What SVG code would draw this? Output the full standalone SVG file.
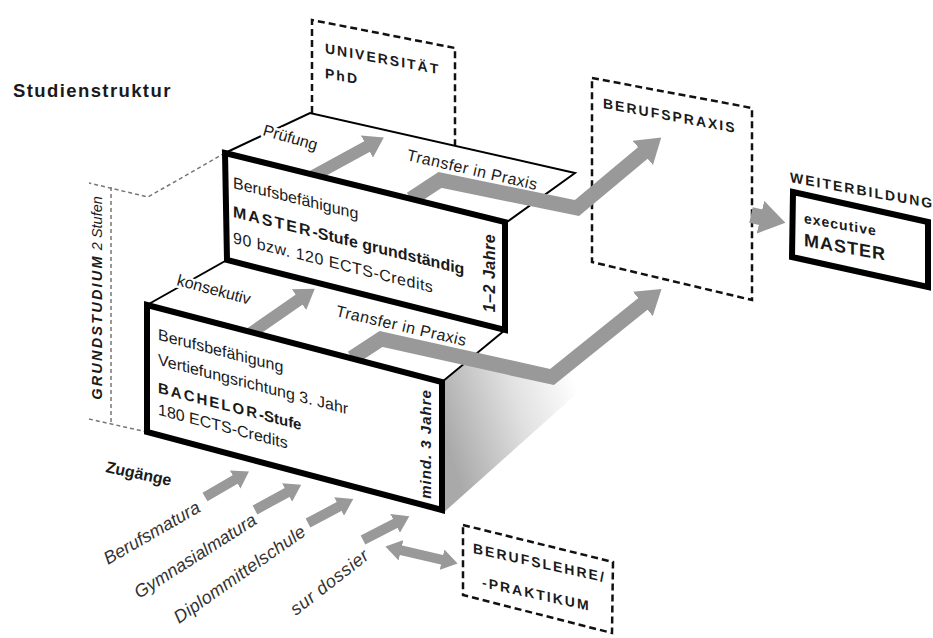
<svg xmlns="http://www.w3.org/2000/svg" width="933" height="638" viewBox="0 0 933 638">
<defs>
<style>
text { font-family: "Liberation Sans", Arial, Helvetica, sans-serif; fill: #1a1a1a; }
.dash { fill: none; stroke: #111; stroke-width: 2.5; stroke-dasharray: 7 4; }
.ghost { fill: none; stroke: #777; stroke-width: 1.5; stroke-dasharray: 4 3; }
.front { fill: #fff; stroke: #000; stroke-width: 6; stroke-linejoin: miter; }
.top { fill: #fff; stroke: #000; stroke-width: 2; stroke-linejoin: miter; }
.arr { fill: none; stroke: #999; stroke-linejoin: miter; marker-end: url(#ah); }
.lab { font-size: 16px; }
.caps { font-weight: bold; font-size: 14px; letter-spacing: 2px; }
.zu { font-size: 18px; font-style: italic; fill: #333; }
.halo { paint-order: stroke; stroke: #fff; stroke-width: 5px; stroke-linejoin: round; }
.vert { font-weight: bold; font-style: italic; }
</style>
<marker id="ah" viewBox="0 0 16 21" markerWidth="1.6" markerHeight="2.1" refX="1" refY="10.5" orient="auto-start-reverse" markerUnits="strokeWidth">
<path d="M0,0 L16,10.5 L0,21 z" fill="#999"/>
</marker>
<linearGradient id="shade" gradientUnits="userSpaceOnUse" x1="445" y1="440" x2="580" y2="395">
<stop offset="0" stop-color="#a9a9a9"/>
<stop offset="0.55" stop-color="#e0e0e0"/>
<stop offset="1" stop-color="#ffffff"/>
</linearGradient>
</defs>
<rect width="933" height="638" fill="#fff"/>

<g id="title">
<text x="13" y="97" font-size="18.5" font-weight="bold" letter-spacing="1.4">Studienstruktur</text>
</g>

<g id="grundstudium">
<path class="ghost" d="M225,153 L148,197 L89,183"/>
<path class="ghost" d="M89,419 L147,432"/>
<path class="ghost" d="M111,187 L111,423"/>
<text class="vert" transform="translate(102,298) rotate(-90)" text-anchor="middle" font-size="14.5"><tspan letter-spacing="2.2">GRUNDSTUDIUM</tspan><tspan font-weight="normal"> 2 Stufen</tspan></text>
</g>

<g id="universitaet">
<path class="dash" d="M312,113 L312,20 L455,48 L455,146"/>
<g transform="translate(325,53) skewY(10.5)">
<text class="caps" x="0" y="0">UNIVERSITÄT</text>
<text class="caps" x="0" y="25">PhD</text>
</g>
</g>

<g id="berufspraxis">
<path class="dash" d="M592,78 L752,108 L752,300 L592,262 Z"/>
<text class="caps" transform="translate(603,108) skewY(10.6)">BERUFSPRAXIS</text>
</g>

<g id="weiterbildung">
<text class="caps" transform="translate(790,182) skewY(10.5)" letter-spacing="1.5">WEITERBILDUNG</text>
<path d="M793,192 L928,222 L928,287 L792,257 Z" fill="#fff" stroke="#000" stroke-width="6"/>
<g transform="translate(804,223) skewY(10)">
<text x="0" y="0" font-size="14" font-weight="bold" letter-spacing="1">executive</text>
<text x="0" y="23" font-size="18" font-weight="bold" letter-spacing="1">MASTER</text>
</g>
</g>

<g id="berufslehre">
<path class="dash" d="M463,525 L613,562 L612,633 L463,595 Z"/>
<g transform="translate(473,553) skewY(12.5)">
<text class="caps" x="0" y="0" letter-spacing="1.8">BERUFSLEHRE/</text>
<text class="caps" x="9" y="32" letter-spacing="1.8">-PRAKTIKUM</text>
</g>
</g>

<g id="steps">
<polygon points="442,382 470,360 592,380 442,514" fill="url(#shade)"/>
<polygon class="top" points="147,305 227,260 505,330 442,382"/>
<polygon class="top" points="225,153 310,113 575,173 507,222"/>
</g>

<g id="connectors">
<path class="arr" stroke-width="12" d="M313,176 L368,146"/>
<path class="arr" stroke-width="15" d="M411,199 L440,180 L577,208 L644,152"/>
<path class="arr" stroke-width="12" d="M251,333 L300,299"/>
<path class="arr" stroke-width="15" d="M352,358 L381,339 L552,377 L644,303"/>
<path class="arr" stroke-width="16" d="M751,215 L762,217.5"/>
<path class="arr" stroke-width="10" d="M205,497 L236,479"/>
<path class="arr" stroke-width="10" d="M255,510 L288,492"/>
<path class="arr" stroke-width="10" d="M308,523 L340,506"/>
<path class="arr" stroke-width="10" d="M363,540 L396,523"/>
<path class="arr" stroke-width="10" marker-start="url(#ah)" d="M400,550 L443,560"/>
</g>

<g id="step-labels">
<text class="lab halo" transform="translate(262,135) rotate(16)">Prüfung</text>
<text class="lab" transform="translate(406,160) rotate(13)" letter-spacing="0.5">Transfer in Praxis</text>
<text class="lab halo" transform="translate(176,285) rotate(15)" font-size="17">konsekutiv</text>
<text class="lab" transform="translate(335,316) rotate(13)" letter-spacing="0.5">Transfer in Praxis</text>
</g>

<g id="master">
<polygon class="front" points="225,153 505,222 505,330 227,260"/>
<g transform="translate(225,153) skewY(14)">
<text x="8" y="33" font-size="16">Berufsbefähigung</text>
<text x="8" y="62" font-size="16" font-weight="bold"><tspan letter-spacing="2">MASTER</tspan>-Stufe grundständig</text>
<text x="8" y="88" font-size="16" letter-spacing="0.5">90 bzw. 120 ECTS-Credits</text>
</g>
<text class="vert" transform="translate(495,273) rotate(-90)" text-anchor="middle" font-size="16" letter-spacing="0.5">1–2 Jahre</text>
</g>

<g id="bachelor">
<polygon class="front" points="147,305 442,382 442,510 147,432"/>
<g transform="translate(147,305) skewY(14.6)">
<text x="11" y="32" font-size="16">Berufsbefähigung</text>
<text x="11" y="57" font-size="16">Vertiefungsrichtung 3. Jahr</text>
<text x="11" y="85" font-size="15" font-weight="bold"><tspan letter-spacing="2">BACHELOR</tspan>-Stufe</text>
<text x="11" y="107" font-size="16">180 ECTS-Credits</text>
</g>
<text class="vert" transform="translate(431,444) rotate(-90)" text-anchor="middle" font-size="15" letter-spacing="1">mind. 3 Jahre</text>
</g>

<g id="zugaenge">
<text transform="translate(105,472) rotate(12)" font-size="16" font-weight="bold">Zugänge</text>
<text class="zu" transform="translate(108,565) rotate(-30)">Berufsmatura</text>
<text class="zu" transform="translate(139,599) rotate(-32.5)">Gymnasialmatura</text>
<text class="zu" transform="translate(179,624) rotate(-35)" letter-spacing="0.3">Diplommittelschule</text>
<text class="zu" transform="translate(296,616) rotate(-38)" letter-spacing="0.6">sur dossier</text>
</g>
</svg>
